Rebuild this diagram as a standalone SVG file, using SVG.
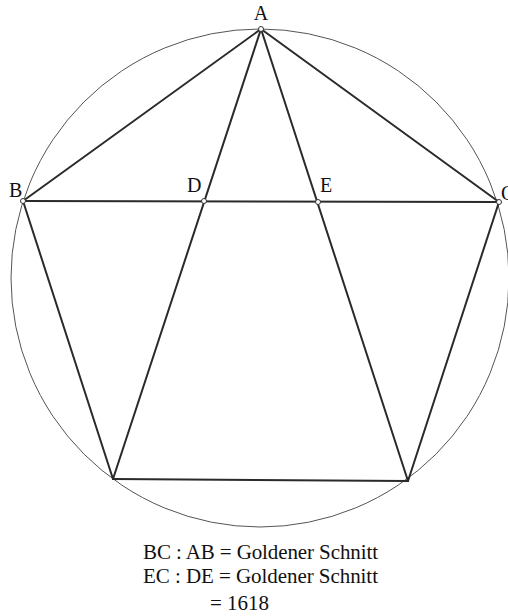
<svg xmlns="http://www.w3.org/2000/svg" width="508" height="616" viewBox="0 0 508 616">
<style>
.edge{stroke:#2a2a2a;stroke-width:2;fill:none;stroke-linecap:round}
.circ{stroke:#555;stroke-width:1;fill:none}
.pt{fill:#fff;stroke:#333;stroke-width:1}
.lbl{font-family:"Liberation Serif","DejaVu Serif",serif;font-size:20px;fill:#111}
.txt{font-family:"Liberation Serif","DejaVu Serif",serif;font-size:21px;fill:#111}
</style>
<rect width="508" height="616" fill="#fff"/>
<g id="circle"><circle class="circ" cx="260" cy="278" r="249"/></g>
<g id="connectors">
<line class="edge" x1="261" y1="29" x2="23" y2="201"/>
<line class="edge" x1="261" y1="29" x2="499" y2="202"/>
<line class="edge" x1="23" y1="201" x2="499" y2="202"/>
<line class="edge" x1="261" y1="29" x2="113" y2="479"/>
<line class="edge" x1="261" y1="29" x2="408" y2="481"/>
<line class="edge" x1="23" y1="201" x2="113" y2="479"/>
<line class="edge" x1="499" y1="202" x2="408" y2="481"/>
<line class="edge" x1="113" y1="479" x2="408" y2="481"/>
</g>
<g id="A"><circle class="pt" cx="261" cy="29" r="2.5"/><text class="lbl" x="261" y="20" text-anchor="middle">A</text></g>
<g id="B"><circle class="pt" cx="23" cy="201" r="2.5"/><text class="lbl" x="9" y="197">B</text></g>
<g id="C"><circle class="pt" cx="499" cy="202" r="2.5"/><text class="lbl" x="501" y="200">C</text></g>
<g id="D"><circle class="pt" cx="204" cy="201" r="2.5"/><text class="lbl" x="187" y="192">D</text></g>
<g id="E"><circle class="pt" cx="318" cy="202" r="2.5"/><text class="lbl" x="320" y="192">E</text></g>
<g id="caption">
<text class="txt" x="143" y="559" textLength="235" lengthAdjust="spacing">BC : AB = Goldener Schnitt</text>
<text class="txt" x="143" y="583" textLength="235" lengthAdjust="spacing">EC : DE = Goldener Schnitt</text>
<text class="txt" x="210" y="610">= 1618</text>
</g>
</svg>
